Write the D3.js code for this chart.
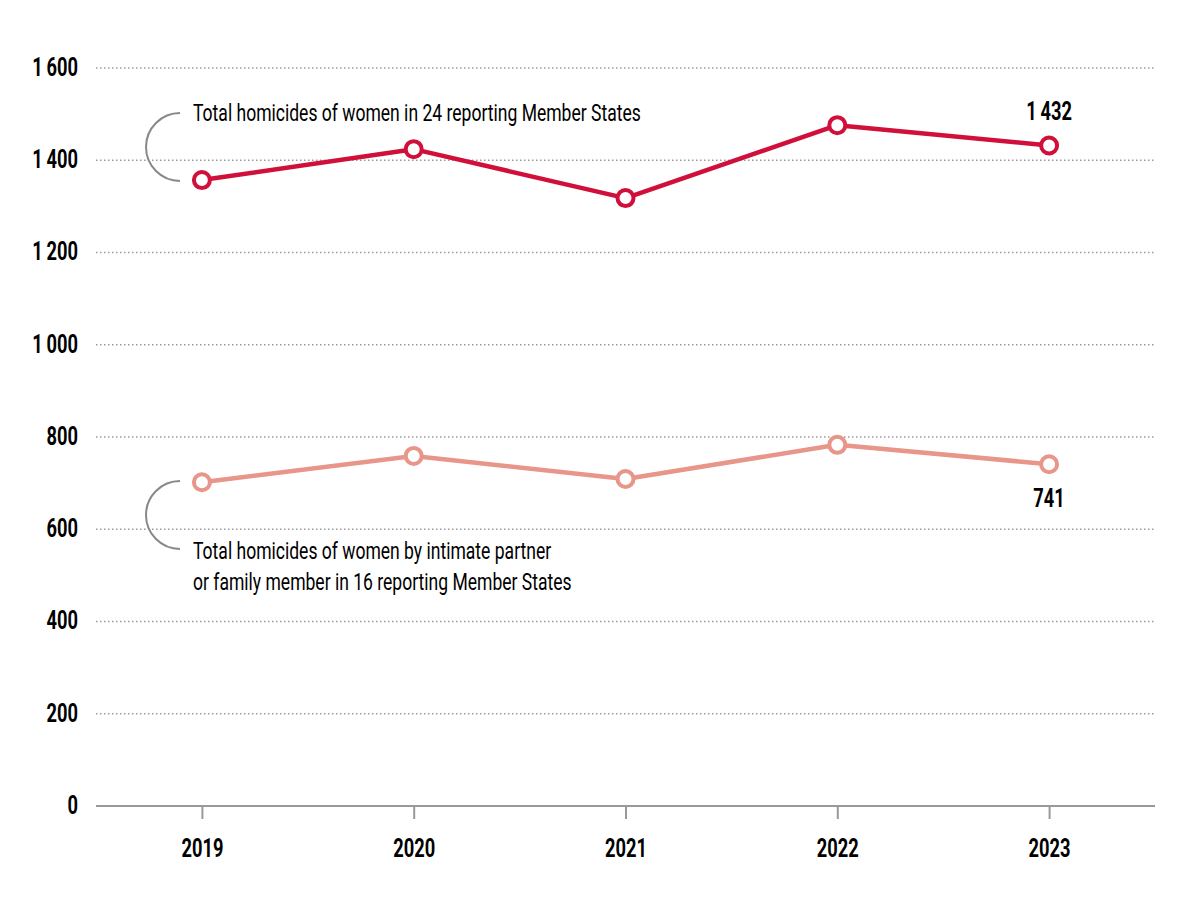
<!DOCTYPE html>
<html><head><meta charset="utf-8">
<script src="https://cdn.jsdelivr.net/npm/d3@7"></script>
<style>
body{margin:0;background:#fff;}
svg text{font-family:Roboto,"Noto Sans",sans-serif;}
</style></head>
<body><svg id="c" width="1200" height="900"></svg>
<script>
const years = ["2019","2020","2021","2022","2023"];
const totalHomicides = [1357, 1424, 1318, 1476, 1432];
const partnerFamily = [702, 759, 709, 783, 741];
const yTicks = [0,200,400,600,800,1000,1200,1400,1600];
const label1 = ["Total homicides of women in 24 reporting Member States"];
const label2 = ["Total homicides of women by intimate partner","or family member in 16 reporting Member States"];

const svg = d3.select("#c");
const x = d3.scalePoint().domain(years).range([96,1155]).padding(0.5);
const y = d3.scaleLinear().domain([0,1600]).range([806,68]);
const fmt = v => { const s = String(v); return s.length>3 ? s.slice(0,s.length-3)+"\u2009"+s.slice(-3) : s; };

const NORMAL_SIZE = 24.5, BOLD_SIZE = 25.5;
function condense(sel, f){
  sel.each(function(){
    const t = d3.select(this);
    const ax = +t.attr("x") || 0;
    t.attr("transform",`translate(${ax},0) scale(${f},1) translate(${-ax},0)`);
  });
}
const probeN = svg.append("text").attr("font-size",NORMAL_SIZE).text(label1[0]);
const fN = 448 / probeN.node().getComputedTextLength(); probeN.remove();
const probeB = svg.append("text").attr("font-size",BOLD_SIZE).attr("font-weight","bold").text("2019");
const fB = 42 / probeB.node().getComputedTextLength(); probeB.remove();

// gridlines
svg.append("g").selectAll("line").data(yTicks.filter(d=>d>0)).join("line")
  .attr("x1",96).attr("x2",1155).attr("y1",d=>y(d)).attr("y2",d=>y(d))
  .attr("stroke","#9a9a9a").attr("stroke-width",1.5).attr("stroke-dasharray","1.5,2.5");

// y labels
svg.append("g").selectAll("text").data(yTicks).join("text")
  .attr("x",78).attr("y",d=>y(d)+8).attr("text-anchor","end")
  .attr("font-size",BOLD_SIZE).attr("font-weight","bold").attr("fill","#000")
  .text(d=>fmt(d)).call(condense,fB);

// x axis
const xa = svg.append("g").attr("transform","translate(0,806)")
  .call(d3.axisBottom(x).tickSize(13).tickPadding(16).tickSizeOuter(0));
xa.select(".domain").attr("stroke","#999").attr("stroke-width",2).attr("d","M96,0H1155");
xa.selectAll(".tick line").attr("stroke","#999").attr("stroke-width",2);
xa.selectAll(".tick text").attr("font-size",BOLD_SIZE).attr("font-weight","bold").attr("fill","#000")
  .attr("font-family","Roboto,sans-serif").attr("dy",null).attr("y",51).call(condense,fB);

function series(data,color){
  const pts = years.map((yr,i)=>[x(yr),y(data[i])]);
  svg.append("path").attr("d",d3.line()(pts)).attr("fill","none")
    .attr("stroke",color).attr("stroke-width",4.5).attr("stroke-linejoin","round");
  svg.append("g").selectAll("circle").data(pts).join("circle")
    .attr("cx",d=>d[0]).attr("cy",d=>d[1]).attr("r",8)
    .attr("fill","#fff").attr("stroke",color).attr("stroke-width",4);
}
series(partnerFamily,"#e8958a");
series(totalHomicides,"#d0103a");

// brackets
function bracket(cy){
  const r = 34;
  svg.append("path").attr("d",`M180,${cy-r} A${r},${r} 0 0 0 180,${cy+r}`)
    .attr("fill","none").attr("stroke","#888").attr("stroke-width",2);
}
bracket(147);
bracket(515);

// annotation labels
svg.append("text").attr("x",193).attr("y",121).attr("font-size",NORMAL_SIZE).attr("fill","#000")
  .text(label1[0]).call(condense,fN);
svg.append("g").selectAll("text").data(label2).join("text")
  .attr("x",193).attr("y",(d,i)=>559+i*31).attr("font-size",NORMAL_SIZE).attr("fill","#000")
  .text(d=>d).call(condense,fN);

// value labels
svg.append("text").attr("x",x("2023")).attr("y",120).attr("text-anchor","middle")
  .attr("font-size",BOLD_SIZE).attr("font-weight","bold").attr("fill","#000")
  .text(fmt(totalHomicides[4])).call(condense,fB);
svg.append("text").attr("x",x("2023")).attr("y",507).attr("text-anchor","middle")
  .attr("font-size",BOLD_SIZE).attr("font-weight","bold").attr("fill","#000")
  .text(fmt(partnerFamily[4])).call(condense,fB);
</script></body></html>
